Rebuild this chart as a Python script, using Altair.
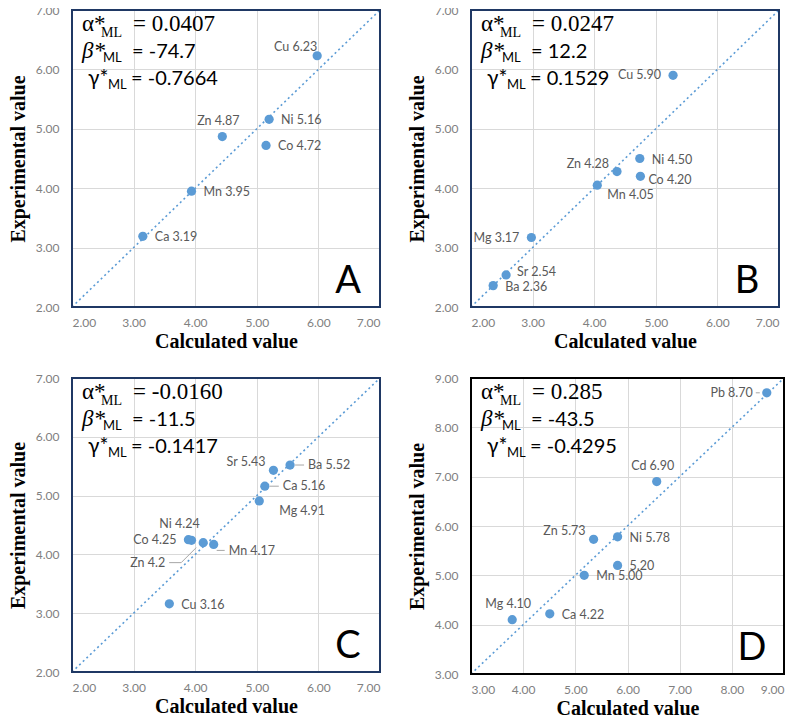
import altair as alt
import pandas as pd

# ---------------- data ----------------
# Panel A
A_names = ["Ca", "Mn", "Zn", "Ni", "Co", "Cu"]
A_calc = [3.15, 3.94, 4.44, 5.20, 5.15, 5.98]
A_exp = [3.19, 3.95, 4.87, 5.16, 4.72, 6.23]
A_labels = ["Ca 3.19", "Mn 3.95", "Zn 4.87", "Ni 5.16", "Co 4.72", "Cu 6.23"]
A_place = ["r", "r", "a", "r", "r", "alc"]
A_coef = ["0.0407", "-74.7", "-0.7664"]
A_range = [2, 7]

# Panel B
B_names = ["Cu", "Ni", "Co", "Zn", "Mn", "Mg", "Sr", "Ba"]
B_calc = [5.28, 4.74, 4.75, 4.37, 4.05, 2.98, 2.57, 2.36]
B_exp = [5.90, 4.50, 4.20, 4.28, 4.05, 3.17, 2.54, 2.36]
B_labels = ["Cu 5.90", "Ni 4.50", "Co 4.20", "Zn 4.28", "Mn 4.05", "Mg 3.17", "Sr 2.54", "Ba 2.36"]
B_place = ["l", "r", "br", "al", "bb", "l", "ar", "r"]
B_coef = ["0.0247", "12.2", "0.1529"]
B_range = [2, 7]

# Panel C
C_names = ["Ba", "Sr", "Ca", "Mg", "Ni", "Co", "Zn", "Mn", "Cu"]
C_calc = [5.54, 5.27, 5.13, 5.04, 3.94, 3.89, 4.13, 4.30, 3.58]
C_exp = [5.52, 5.43, 5.16, 4.91, 4.24, 4.25, 4.20, 4.17, 3.16]
C_labels = ["Ba 5.52", "Sr 5.43", "Ca 5.16", "Mg 4.91", "Ni 4.24", "Co 4.25", "Zn 4.2", "Mn 4.17", "Cu 3.16"]
C_place = ["rl", "al", "rl", "bbr", "a2", "l", "zl", "rlm", "r"]
C_coef = ["-0.0160", "-11.5", "-0.1417"]
C_range = [2, 7]

# Panel D
D_names = ["Pb", "Cd", "Zn", "Ni", "Co", "Mn", "Mg", "Ca"]
D_calc = [8.67, 6.56, 5.35, 5.81, 5.81, 5.17, 3.79, 4.51]
D_exp = [8.70, 6.90, 5.73, 5.78, 5.20, 5.00, 4.10, 4.22]
D_labels = ["Pb 8.70", "Cd 6.90", "Zn 5.73", "Ni 5.78", "5.20", "Mn 5.00", "Mg 4.10", "Ca 4.22"]
D_place = ["ll", "a", "al", "r", "r", "r", "a", "r"]
D_coef = ["0.285", "-43.5", "-0.4295"]
D_range = [3, 9]

# ---------------- styles ----------------
BLUE = "#5B9BD5"
LABEL_GRAY = "#595959"
LEAD_GRAY = "#a6a6a6"
SANS = "Lato"
SERIF = "Liberation Serif"

# label placement styles: align, dx, dy, leader segments (x1, y1, x2, y2) in px from the point
PLACE = {
    "r": dict(align="left", dx=12, dy=1),
    "l": dict(align="right", dx=-12, dy=0),
    "a": dict(align="center", dx=-4, dy=-16),
    "a2": dict(align="center", dx=-12, dy=-16),
    "al": dict(align="right", dx=-8, dy=-8),
    "alc": dict(align="right", dx=0, dy=-9),
    "ar": dict(align="left", dx=11, dy=-3),
    "br": dict(align="left", dx=8, dy=4),
    "bb": dict(align="left", dx=10, dy=10),
    "bbr": dict(align="left", dx=20, dy=10),
    "rl": dict(align="left", dx=18, dy=0, lead=[(5, 0, 14, 0)]),
    "rlm": dict(align="left", dx=15, dy=7, lead=[(3, 6, 11, 6)]),
    "zl": dict(align="right", dx=-38, dy=20, lead=[(-7, 5, -22, 20), (-22, 20, -34, 20)]),
    "ll": dict(align="right", dx=-14, dy=0, lead=[(-11, 0, -7, 0)]),
}


def txt(s, x, y, font, size, style="normal", align="left"):
    return alt.Chart(pd.DataFrame({"t": [s]})).mark_text(
        align=align, baseline="alphabetic", font=font, fontSize=size,
        fontStyle=style, color="black"
    ).encode(x=alt.value(x), y=alt.value(y), text="t:N")


def panel(names, calc, exp, labels, place, coef, rng, letter, border, W, H):
    df = pd.DataFrame({"name": names, "calc": calc, "exp": exp,
                       "label": labels, "place": place})
    ticks = list(range(rng[0], rng[1] + 1))
    sx = alt.Scale(domain=rng, nice=False, zero=False)
    sy = alt.Scale(domain=rng, nice=False, zero=False)
    xax = alt.Axis(values=ticks, format=".2f", title="Calculated value",
                   labelPadding=10, titlePadding=3)
    yax = alt.Axis(values=ticks, format=".2f", title="Experimental value",
                   labelPadding=13, titlePadding=7)
    X = alt.X("calc:Q", scale=sx, axis=xax)
    Y = alt.Y("exp:Q", scale=sy, axis=yax)

    diag = alt.Chart(pd.DataFrame({"v": rng})).mark_line(
        color=BLUE, strokeDash=[2, 3], strokeWidth=1.6
    ).encode(x=alt.X("v:Q", scale=sx, axis=xax), y=alt.Y("v:Q", scale=sy, axis=yax))

    layers = [diag]
    base = alt.Chart(df)
    for code in sorted(set(place)):
        st = PLACE[code]
        for (x1, y1, x2, y2) in st.get("lead", []):
            layers.append(
                base.transform_filter(alt.datum.place == code).mark_rule(
                    color=LEAD_GRAY, strokeWidth=1,
                    xOffset=x1, yOffset=y1, x2Offset=x2, y2Offset=y2
                ).encode(x=X, y=Y, x2="calc:Q", y2="exp:Q")
            )
    layers.append(base.mark_circle(size=85, color=BLUE, opacity=1).encode(x=X, y=Y))
    for code in sorted(set(place)):
        st = PLACE[code]
        layers.append(
            base.transform_filter(alt.datum.place == code).mark_text(
                align=st["align"], baseline="middle", dx=st["dx"], dy=st["dy"],
                font=SANS, fontSize=12.5, color=LABEL_GRAY
            ).encode(x=X, y=Y, text="label:N")
        )

    # coefficient box
    layers += [
        txt("α*", 10, 21, SERIF, 23),
        txt("ML", 29, 27, SERIF, 14),
        txt("= " + coef[0], 61, 21, SERIF, 23),
        txt("β*", 10, 48, SERIF, 23, style="italic"),
        txt("ML", 31, 52, SANS, 13),
        txt("= " + coef[1], 60, 48, SANS, 20),
        txt("γ*", 16, 75, SANS, 21),
        txt("ML", 36, 79, SANS, 13),
        txt("= " + coef[2], 59, 75, SANS, 20),
        txt(letter, W - 32, H - 14, SANS, 38, align="center"),
    ]
    # plot frame
    layers.append(
        alt.Chart(pd.DataFrame({"f": [0]})).mark_rect(
            filled=False, stroke=border, strokeWidth=2
        ).encode(x=alt.value(0), x2=alt.value(W), y=alt.value(0), y2=alt.value(H))
    )
    return alt.layer(*layers).properties(width=W, height=H)


pA = panel(A_names, A_calc, A_exp, A_labels, A_place, A_coef, A_range, "A", "#1F3864", 308, 297)
pB = panel(B_names, B_calc, B_exp, B_labels, B_place, B_coef, B_range, "B", "#1F3864", 308, 297)
pC = panel(C_names, C_calc, C_exp, C_labels, C_place, C_coef, C_range, "C", "#1F3864", 308, 294)
pD = panel(D_names, D_calc, D_exp, D_labels, D_place, D_coef, D_range, "D", "#000000", 313, 296)

chart = alt.vconcat(
    alt.hconcat(pA, pB, spacing=23),
    alt.hconcat(pC, pD, spacing=23),
    spacing=21,
).properties(
    padding={"top": -4, "left": 0, "right": 0, "bottom": 0}
).configure_axis(
    grid=True, gridColor="#d9d9d9", gridWidth=1,
    domain=False, ticks=False,
    labelFont=SANS, labelFontSize=12, labelColor="#808080",
    titleFont=SERIF, titleFontSize=20, titleFontWeight="bold", titleColor="black",
).configure_view(strokeWidth=0)

chart.save("out.html", embed_options={"renderer": "svg", "actions": False})
